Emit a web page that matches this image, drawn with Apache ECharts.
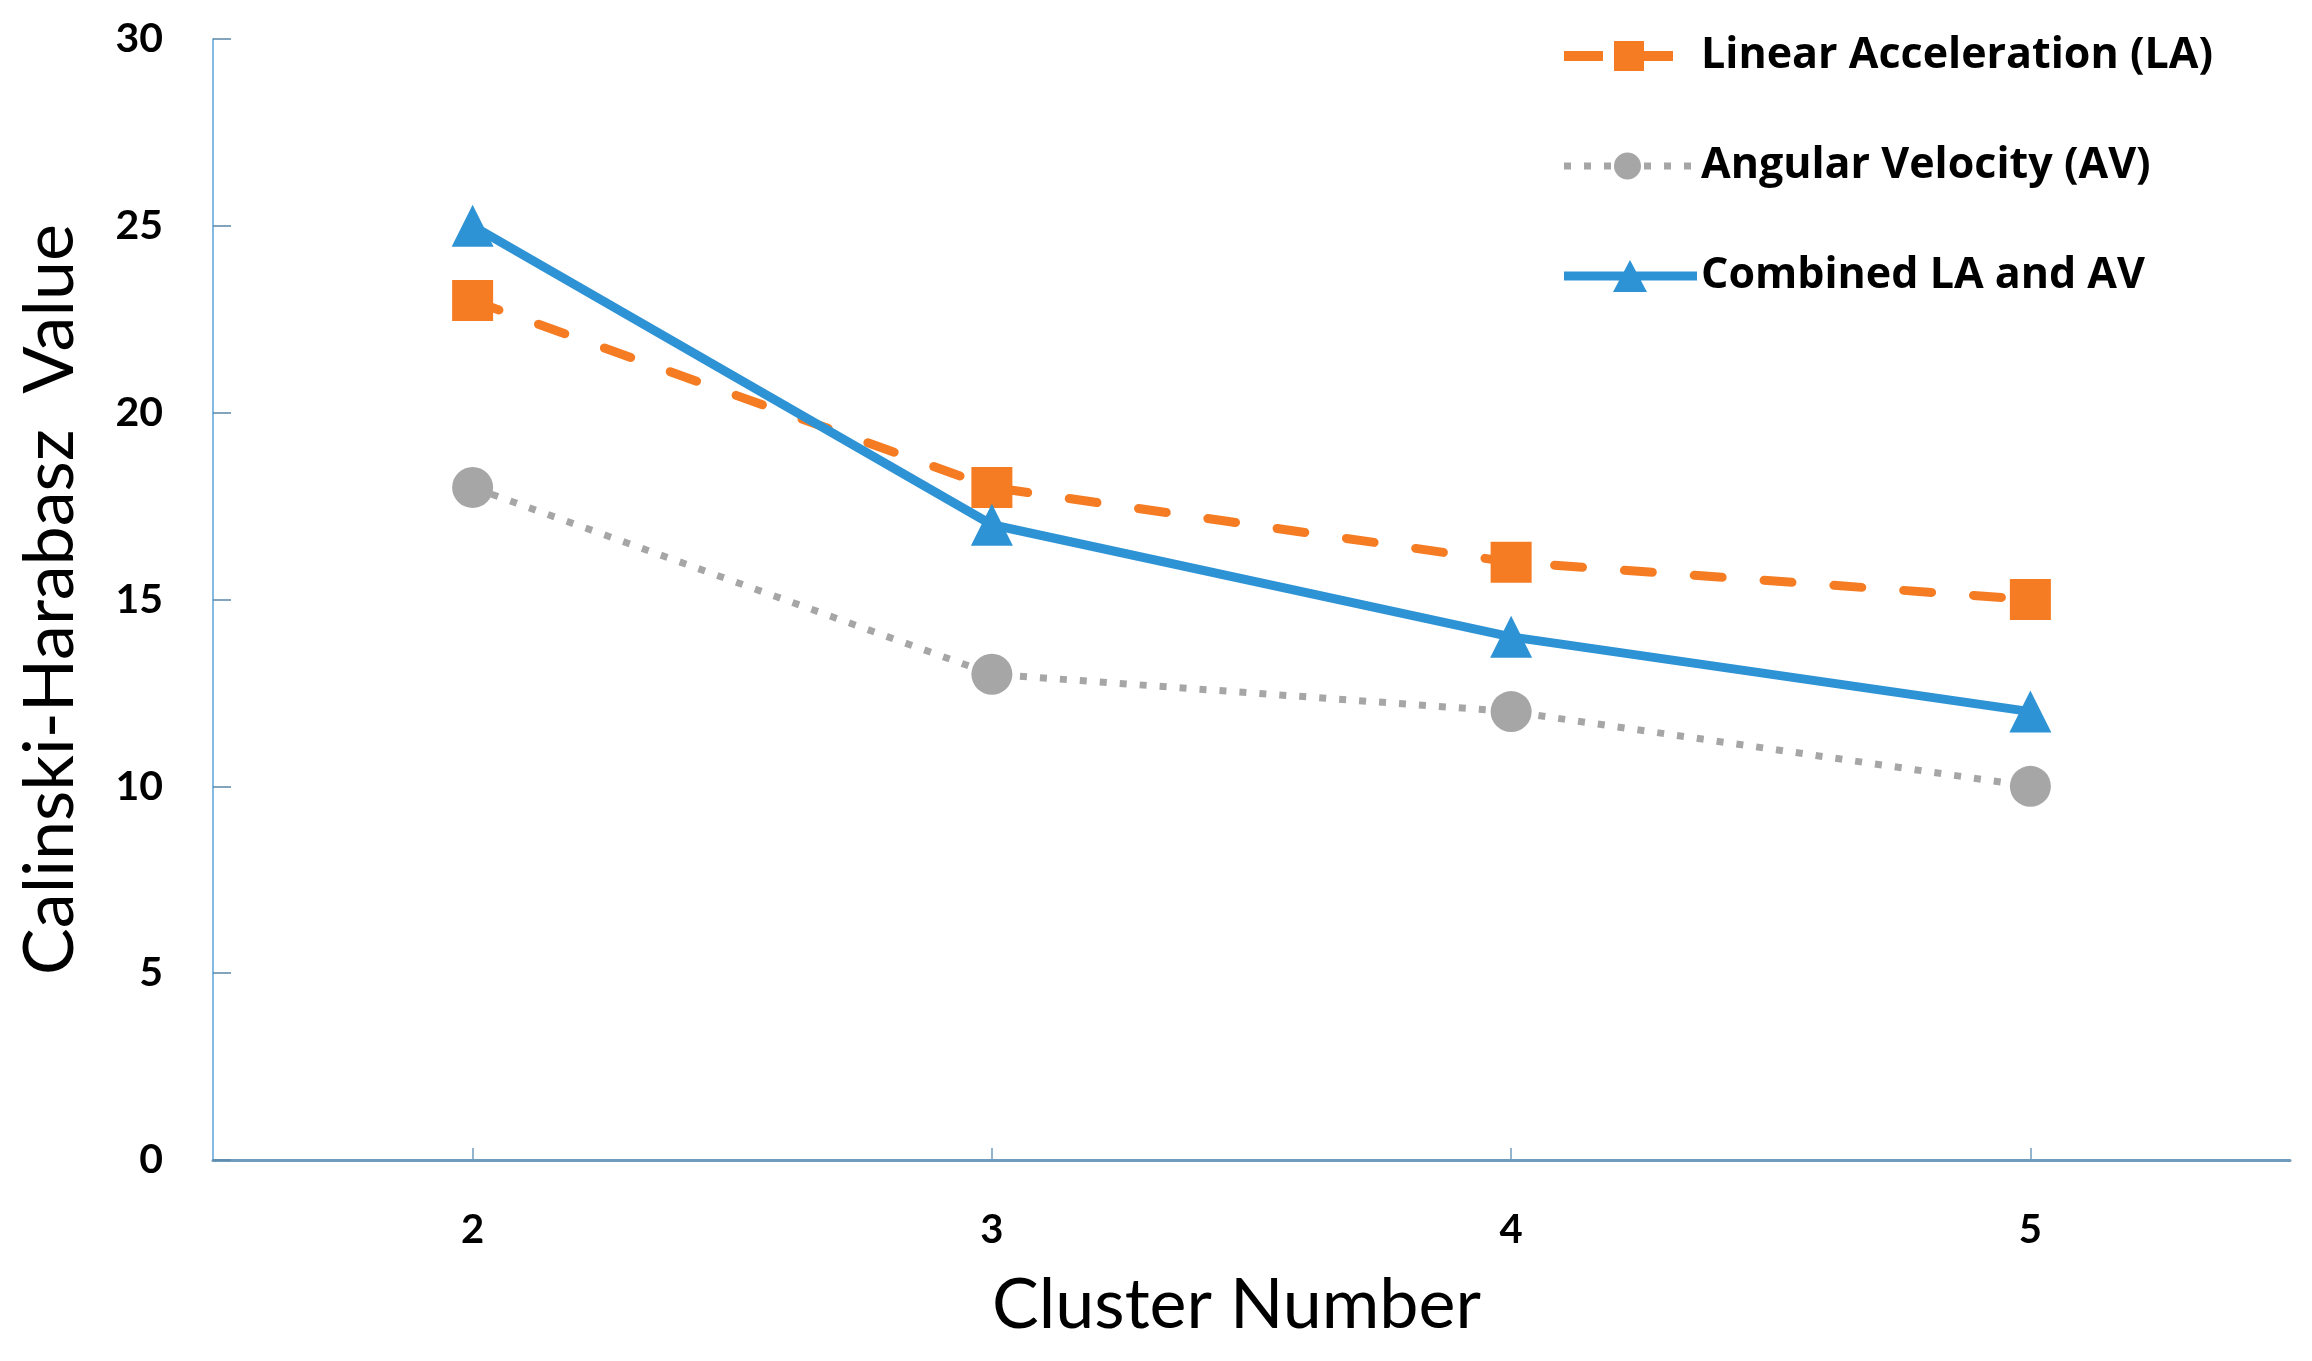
<!DOCTYPE html>
<html>
<head>
<meta charset="utf-8">
<script src="https://cdn.jsdelivr.net/npm/echarts@6/dist/echarts.min.js"></script>
<style>
html,body{margin:0;padding:0;background:#fff;}
#chart{width:2312px;height:1361px;}
</style>
</head>
<body>
<div id="chart"></div>
<script>
const categories = ['2', '3', '4', '5'];
const linearAcceleration = [23, 18, 16, 15];
const angularVelocity = [18, 13, 12, 10];
const combined = [25, 17, 14, 12];
const seriesNames = ['Linear Acceleration (LA)', 'Angular Velocity (AV)', 'Combined LA and AV'];

const ORANGE = '#f57c22';
const GRAY = '#a6a6a6';
const BLUE = '#2e93d5';
const FONT = 'Lato, "Open Sans", sans-serif';
const LEGEND_FONT = '"Open Sans", Lato, sans-serif';

// legend icons (line sample + marker) as paths
const iconLA = 'path://M0 10H39V20H0Z M50 0H80V30H50Z M80 10H109V20H80Z';
const iconAV = 'path://M0 10H7V17H0Z M20 10H27V17H20Z M40 10H47V17H40Z ' +
  'M50 13.5A13.5 13.5 0 1 1 77 13.5A13.5 13.5 0 1 1 50 13.5Z ' +
  'M80 10H87V17H80Z M100 10H107V17H100Z M120 10H127V17H120Z';
const iconC = 'path://M0 11.5H133V20.5H0Z M66 0L83 32L49 32Z';

const TEXT_X = 1701;
function legendItem(name, icon, w, h, centerY) {
  return {
    orient: 'vertical',
    left: 1564,
    top: centerY - 30,
    padding: 0,
    itemWidth: w,
    itemHeight: h,
    icon: icon,
    itemStyle: {borderWidth: 0},
    data: [name],
    textStyle: {fontFamily: LEGEND_FONT, fontWeight: 'bold', fontSize: 43, color: '#000',
                lineHeight: 60, padding: [0, 0, 0, TEXT_X - 1564 - w - 5]}
  };
}

const chart = echarts.init(document.getElementById('chart'), null, {renderer: 'canvas'});
chart.setOption({
  backgroundColor: '#ffffff',
  animation: false,
  grid: {left: 213, right: 22, top: 39, bottom: 201, containLabel: false},
  legend: [
    legendItem(seriesNames[0], iconLA, 109, 30, 56),
    legendItem(seriesNames[1], iconAV, 127, 27, 166),
    legendItem(seriesNames[2], iconC, 133, 32, 276)
  ],
  xAxis: {
    type: 'category',
    data: categories,
    boundaryGap: true,
    name: 'Cluster Number',
    nameLocation: 'middle',
    nameGap: 110,
    nameTextStyle: {fontFamily: FONT, fontSize: 70, color: '#000', padding: [0, 30, 0, 0]},
    axisLine: {lineStyle: {color: '#6f9cbd', width: 3}},
    axisTick: {show: true, inside: true, length: 12, alignWithLabel: true, lineStyle: {color: '#6f9cbd', width: 1.5}},
    axisLabel: {margin: 50, fontFamily: FONT, fontWeight: 'bold', fontSize: 40, color: '#000'},
    splitLine: {show: false}
  },
  yAxis: {
    type: 'value',
    min: 0, max: 30, interval: 5,
    name: 'Calinski-Harabasz  Value',
    nameLocation: 'middle',
    nameGap: 128,
    nameTextStyle: {fontFamily: FONT, fontSize: 70, color: '#000'},
    axisLine: {show: true, lineStyle: {color: '#5aa3d8', width: 1.5}},
    axisTick: {show: true, inside: true, length: 18, lineStyle: {color: '#5a88a8', width: 1.5}},
    axisLabel: {margin: 50, fontFamily: FONT, fontWeight: 'bold', fontSize: 41, color: '#000'},
    splitLine: {show: false}
  },
  series: [
    {
      name: seriesNames[0], type: 'line', data: linearAcceleration,
      symbol: 'rect', symbolSize: 41,
      itemStyle: {color: ORANGE, borderWidth: 0},
      lineStyle: {color: ORANGE, width: 9, type: [28, 42], cap: 'round'},
      z: 2
    },
    {
      name: seriesNames[1], type: 'line', data: angularVelocity,
      symbol: 'circle', symbolSize: 41,
      itemStyle: {color: GRAY, borderWidth: 0},
      lineStyle: {color: GRAY, width: 7, type: [7, 13], cap: 'butt'},
      z: 2
    },
    {
      name: seriesNames[2], type: 'line', data: combined,
      symbol: 'triangle', symbolSize: 42,
      itemStyle: {color: BLUE, borderWidth: 0},
      lineStyle: {color: BLUE, width: 9},
      z: 3
    }
  ]
});
</script>
</body>
</html>
